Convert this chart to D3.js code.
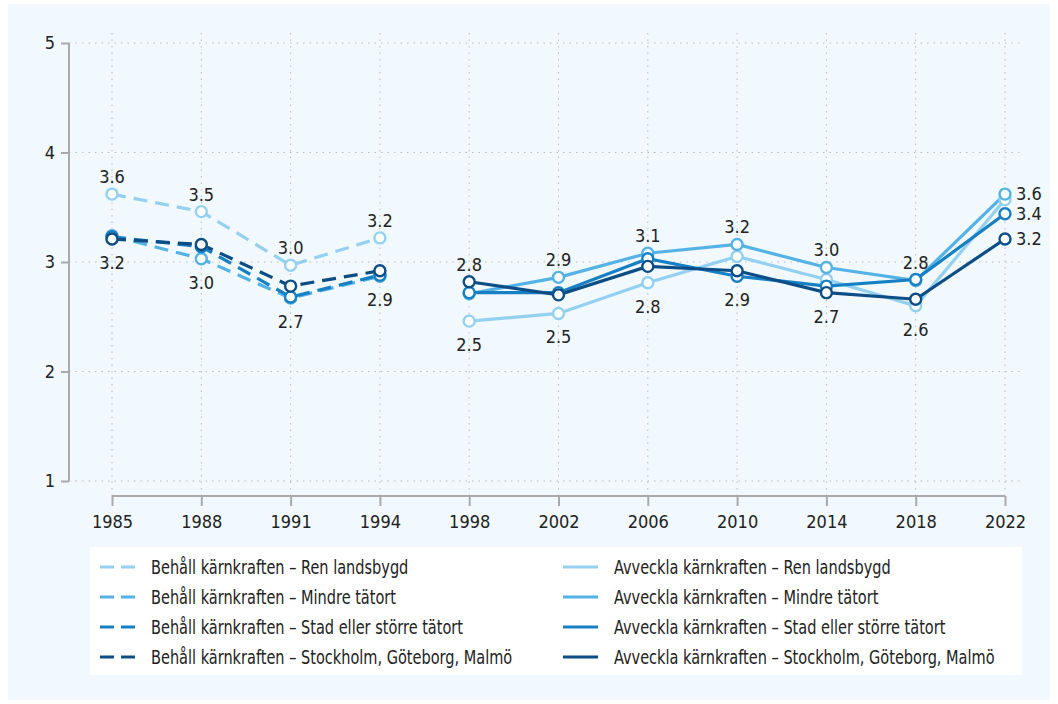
<!DOCTYPE html>
<meta charset="utf-8">
<style>
    * { margin: 0px; }
    body { background: #fff; }
    text { font-family: "DejaVu Sans Condensed", sans-serif; fill: #222; }
    .grid line { stroke: #bbb; stroke-dasharray: 1.5 5; }
</style>
<svg width="1058" height="704"></svg>
<script src="https://d3js.org/d3.v7.min.js"></script>
<script>
    // categories
    var years = ["1985", "1988", "1991", "1994", "1998", "2002", "2006", "2010", "2014", "2018", "2022"];
    var behallYears = ["1985", "1988", "1991", "1994"];
    var avvecklaYears = ["1998", "2002", "2006", "2010", "2014", "2018", "2022"];
    var areas = ["Ren landsbygd", "Mindre tätort", "Stad eller större tätort", "Stockholm, Göteborg, Malmö"];
    var colors = ["#93d0f2", "#55b2e6", "#1780c4", "#0c4d86"];
    var yTicks = [1, 2, 3, 4, 5];

    // values
    var behallRen = [3.62, 3.46, 2.97, 3.22];
    var behallMindre = [3.24, 3.03, 2.67, 2.87];
    var behallStad = [3.23, 3.14, 2.68, 2.88];
    var behallStorstad = [3.21, 3.16, 2.78, 2.92];
    var avvecklaRen = [2.46, 2.53, 2.81, 3.05, 2.84, 2.60, 3.57];
    var avvecklaMindre = [2.71, 2.86, 3.08, 3.16, 2.95, 2.83, 3.62];
    var avvecklaStad = [2.72, 2.72, 3.03, 2.87, 2.78, 2.84, 3.44];
    var avvecklaStorstad = [2.82, 2.70, 2.96, 2.92, 2.72, 2.66, 3.21];

    var svg = d3.select("svg");

    svg.append("rect").attr("x", 8).attr("y", 4).attr("width", 1042).attr("height", 696)
        .attr("fill", "#f1f9fe");

    var x = d3.scalePoint().domain(years).range([112, 1005]);
    var y = d3.scaleLinear().domain([1, 5]).range([481, 43]);

    // grid
    var grid = svg.append("g").attr("class", "grid");
    grid.selectAll(".h").data(yTicks).enter().append("line")
        .attr("x1", 69).attr("x2", 1022)
        .attr("y1", function(d) { return y(d); }).attr("y2", function(d) { return y(d); });
    grid.selectAll(".v").data(years).enter().append("line")
        .attr("x1", function(d) { return x(d); }).attr("x2", function(d) { return x(d); })
        .attr("y1", 33).attr("y2", 496);

    // axes
    var yAxis = svg.append("g").attr("transform", "translate(69,0)")
        .call(d3.axisLeft(y).tickValues(yTicks).tickFormat(d3.format("d")).tickSize(8).tickPadding(6));
    var xAxis = svg.append("g").attr("transform", "translate(0,496)")
        .call(d3.axisBottom(x).tickSize(10).tickPadding(9));
    [yAxis, xAxis].forEach(function(a) {
        a.select(".domain").attr("stroke", "#aaa").attr("stroke-width", 2);
        a.selectAll(".tick line").attr("stroke", "#aaa").attr("stroke-width", 2);
        a.selectAll("text").attr("font-size", 18).attr("font-family", null).attr("fill", "#222");
    });
    xAxis.select(".domain").attr("d", "M112,0H1005");
    yAxis.select(".domain").attr("d", "M0,43V481");

    var behall = [behallRen, behallMindre, behallStad, behallStorstad];
    var avveckla = [avvecklaRen, avvecklaMindre, avvecklaStad, avvecklaStorstad];

    var line = d3.line().x(function(d) { return x(d.year); }).y(function(d) { return y(d.value); });

    function toPoints(vals, yrs) {
        return vals.map(function(v, i) { return { year: yrs[i], value: v }; });
    }

    function drawGroup(set, yrs, dashed) {
        set.forEach(function(vals, k) {
            var pts = toPoints(vals, yrs);
            svg.append("path").datum(pts)
                .attr("d", line).attr("fill", "none")
                .attr("stroke", colors[k]).attr("stroke-width", 3.2)
                .attr("stroke-dasharray", dashed ? "14 8" : null);
        });
        set.forEach(function(vals, k) {
            var pts = toPoints(vals, yrs);
            svg.append("g").selectAll("circle").data(pts).enter().append("circle")
                .attr("cx", function(d) { return x(d.year); })
                .attr("cy", function(d) { return y(d.value); })
                .attr("r", 5.5).attr("fill", "#fff")
                .attr("stroke", colors[k]).attr("stroke-width", 2.4);
        });
    }
    drawGroup(behall, behallYears, true);
    drawGroup(avveckla, avvecklaYears, false);

    // labels: highest above, lowest below
    var fmt = d3.format(".1f");
    var labels = svg.append("g").attr("font-size", 18);
    function labelGroup(set, yrs, skipLast) {
        yrs.forEach(function(yr, i) {
            if (skipLast && i === yrs.length - 1) return;
            var vals = set.map(function(s) { return s[i]; });
            var hi = d3.max(vals), lo = d3.min(vals);
            labels.append("text").attr("x", x(yr)).attr("y", y(hi) - 11)
                .attr("text-anchor", "middle").text(fmt(hi));
            labels.append("text").attr("x", x(yr)).attr("y", y(lo) + 30)
                .attr("text-anchor", "middle").text(fmt(lo));
        });
    }
    labelGroup(behall, behallYears, false);
    labelGroup(avveckla, avvecklaYears, true);
    // end labels at 2022
    [1, 2, 3].forEach(function(k) {
        var v = avveckla[k][avveckla[k].length - 1];
        labels.append("text").attr("x", x("2022") + 11).attr("y", y(v) + 6).text(fmt(v));
    });

    // legend
    svg.append("rect").attr("x", 90).attr("y", 547).attr("width", 932).attr("height", 128).attr("fill", "#fff");
    var legend = svg.append("g").attr("font-size", 19);
    var cols = [
        { prefix: "Behåll kärnkraften – ", dashed: true, x0: 100 },
        { prefix: "Avveckla kärnkraften – ", dashed: false, x0: 563 }
    ];
    cols.forEach(function(c) {
        areas.forEach(function(a, k) {
            var ly = 567 + k * 30;
            legend.append("line").attr("x1", c.x0).attr("x2", c.x0 + 35)
                .attr("y1", ly).attr("y2", ly)
                .attr("stroke", colors[k]).attr("stroke-width", 3.2)
                .attr("stroke-dasharray", c.dashed ? "14 7" : null);
            legend.append("text")
                .attr("transform", "translate(" + (c.x0 + 51) + "," + (ly + 7) + ") scale(0.85,1)")
                .text(c.prefix + a);
        });
    });
</script>
